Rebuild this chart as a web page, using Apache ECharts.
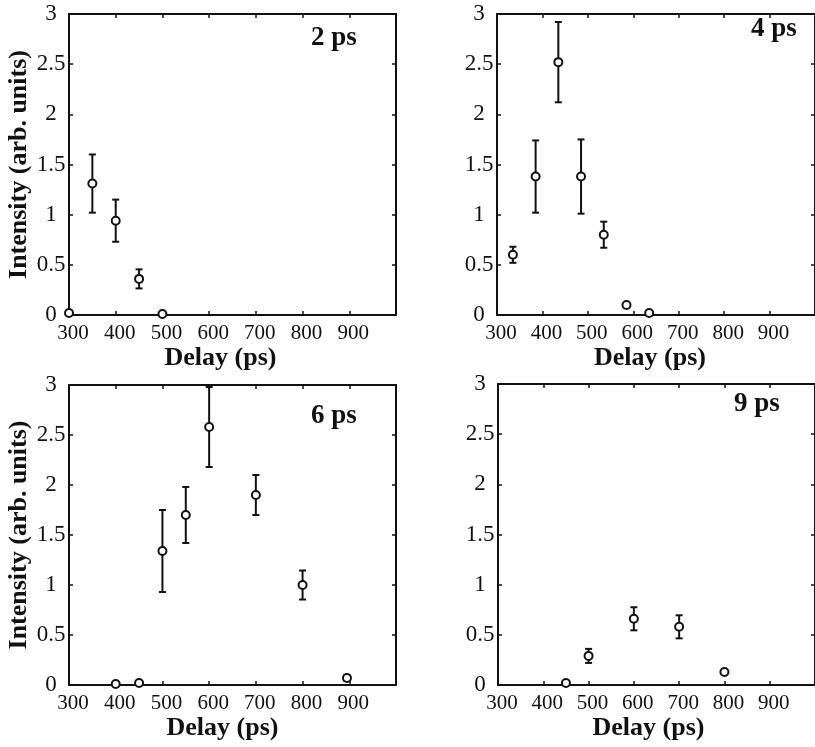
<!DOCTYPE html>
<html>
<head>
<meta charset="utf-8">
<script src="https://cdn.jsdelivr.net/npm/echarts@6/dist/echarts.min.js"></script>
<style>
  html, body { margin: 0; padding: 0; background: #fff; }
  #chart { width: 815px; height: 747px; }
</style>
</head>
<body>
<div id="chart"></div>
<script>
// tick labels
const delayTicks = [300, 400, 500, 600, 700, 800, 900];
const intensityTicks = [0, 0.5, 1, 1.5, 2, 2.5, 3];

// 2 ps
const delay2 = [300, 350, 400, 450, 500];
const intensity2 = [0.02, 1.31, 0.94, 0.36, 0.01];
const error2 = [0, 0.29, 0.21, 0.095, 0];

// 4 ps
const delay4 = [335, 385, 435, 485, 535, 585, 635];
const intensity4 = [0.6, 1.38, 2.52, 1.38, 0.8, 0.1, 0.02];
const error4 = [0.08, 0.36, 0.4, 0.37, 0.13, 0.02, 0];

// 6 ps
const delay6 = [400, 450, 500, 550, 600, 700, 800, 895];
const intensity6 = [0.01, 0.02, 1.34, 1.7, 2.58, 1.9, 1.0, 0.07];
const error6 = [0, 0, 0.41, 0.28, 0.4, 0.2, 0.145, 0.03];

// 9 ps
const delay9 = [450, 500, 600, 700, 800];
const intensity9 = [0.02, 0.29, 0.66, 0.58, 0.13];
const error9 = [0, 0.07, 0.115, 0.115, 0.02];

const panelLabels = ['2 ps', '4 ps', '6 ps', '9 ps'];
const panelData = [
  [delay2, intensity2, error2],
  [delay4, intensity4, error4],
  [delay6, intensity6, error6],
  [delay9, intensity9, error9]
];

// layout of the four boxes
const boxes = [
  { left: 69, top: 14, width: 327, height: 301 },
  { left: 497, top: 14, width: 324, height: 301 },
  { left: 69, top: 385, width: 327, height: 300 },
  { left: 498, top: 384, width: 324, height: 301 }
];
const labelPos = [[311, 25], [751, 16], [311, 403], [734, 391]];
const xNameShift = [12, 6, 10, 8];

const font = 'Liberation Serif';
const ink = '#111';

function renderErrorBar(params, api) {
  const x = api.value(0);
  const lowVal = api.value(1);
  const highVal = api.value(2);
  if (highVal - lowVal <= 0) {
    return { type: 'group', children: [] };
  }
  const lo = api.coord([x, lowVal]);
  const hi = api.coord([x, highVal]);
  const cap = 3.5;
  const style = { stroke: ink, lineWidth: 2 };
  return {
    type: 'group',
    children: [
      { type: 'line', shape: { x1: hi[0], y1: hi[1], x2: lo[0], y2: lo[1] }, style: style },
      { type: 'line', shape: { x1: hi[0] - cap, y1: hi[1], x2: hi[0] + cap, y2: hi[1] }, style: style },
      { type: 'line', shape: { x1: lo[0] - cap, y1: lo[1], x2: lo[0] + cap, y2: lo[1] }, style: style }
    ]
  };
}

var chartDom = document.getElementById('chart');
var myChart = echarts.init(chartDom);

var xAxes = [], yAxes = [], series = [], graphics = [];

boxes.forEach(function (box, i) {
  var xBase = {
    gridIndex: i,
    type: 'value',
    min: delayTicks[0],
    max: 1000,
    interval: 100,
    splitLine: { show: false },
    axisLine: { onZero: false, lineStyle: { color: ink, width: 2 } },
    axisTick: { inside: true, length: 4, lineStyle: { color: ink, width: 1.5 } }
  };
  xAxes.push(Object.assign({}, xBase, {
    position: 'bottom',
    name: 'Delay (ps)',
    nameLocation: 'middle',
    nameGap: 29,
    nameTextStyle: {
      fontFamily: font, fontWeight: 'bold', fontSize: 26, color: ink,
      padding: [0, xNameShift[i] * 2, 0, 0]
    },
    axisLabel: {
      showMaxLabel: false,
      margin: 8,
      padding: [0, 0, 0, 8],
      fontFamily: font, fontSize: 21, color: ink
    }
  }));
  xAxes.push(Object.assign({}, xBase, {
    position: 'top',
    axisLabel: { show: false }
  }));

  var yBase = {
    gridIndex: i,
    type: 'value',
    min: intensityTicks[0],
    max: intensityTicks[intensityTicks.length - 1],
    interval: 0.5,
    splitLine: { show: false },
    axisLine: { onZero: false, lineStyle: { color: ink, width: 2 } },
    axisTick: { inside: true, length: 4, lineStyle: { color: ink, width: 1.5 } }
  };
  var yLeft = Object.assign({}, yBase, {
    position: 'left',
    axisLabel: {
      margin: 18,
      align: 'center',
      padding: [10, 0, 0, 0],
      fontFamily: font, fontSize: 23, color: ink
    }
  });
  if (i % 2 === 0) {
    yLeft.name = 'Intensity (arb. units)';
    yLeft.nameLocation = 'middle';
    yLeft.nameGap = 35;
    yLeft.nameTextStyle = { fontFamily: font, fontWeight: 'bold', fontSize: 26, color: ink };
  }
  yAxes.push(yLeft);
  yAxes.push(Object.assign({}, yBase, {
    position: 'right',
    axisLabel: { show: false }
  }));

  var d = panelData[i];
  series.push({
    type: 'custom',
    xAxisIndex: 2 * i,
    yAxisIndex: 2 * i,
    renderItem: renderErrorBar,
    encode: { x: 0, y: [1, 2] },
    data: d[0].map(function (x, k) {
      return [x, d[1][k] - d[2][k], d[1][k] + d[2][k]];
    }),
    z: 2
  });
  series.push({
    type: 'scatter',
    xAxisIndex: 2 * i,
    yAxisIndex: 2 * i,
    clip: false,
    symbol: 'circle',
    symbolSize: 8,
    itemStyle: { color: '#fff', borderColor: ink, borderWidth: 2, opacity: 1 },
    data: d[0].map(function (x, k) { return [x, d[1][k]]; }),
    z: 3
  });

  graphics.push({
    type: 'text',
    left: labelPos[i][0],
    top: labelPos[i][1],
    style: {
      text: panelLabels[i],
      fontFamily: font, fontWeight: 'bold', fontSize: 27, fill: ink
    }
  });
});

var option = {
  backgroundColor: '#fff',
  animation: false,
  grid: boxes.map(function (b) {
    return Object.assign({ show: false }, b);
  }),
  xAxis: xAxes,
  yAxis: yAxes,
  series: series,
  graphic: graphics
};

option && myChart.setOption(option);
</script>
</body>
</html>
